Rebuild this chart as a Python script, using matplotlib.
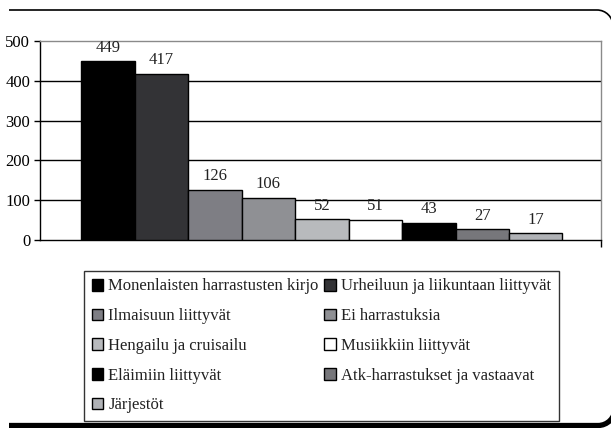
import numpy as np
import matplotlib
matplotlib.use("Agg")
from matplotlib import pyplot as plt
from matplotlib.patches import Rectangle
from matplotlib.path import Path
from matplotlib.patches import PathPatch
from matplotlib.transforms import IdentityTransform

#%% Données

categories = ["Monenlaisten harrastusten kirjo", "Urheiluun ja liikuntaan liittyvät",
              "Ilmaisuun liittyvät", "Ei harrastuksia", "Hengailu ja cruisailu",
              "Musiikkiin liittyvät", "Eläimiin liittyvät", "Atk-harrastukset ja vastaavat",
              "Järjestöt"]
valeurs = [449, 417, 126, 106, 52, 51, 43, 27, 17]
couleurs = ["#000000", "#333336", "#7e7e84", "#8f9094", "#b8babd",
            "#ffffff", "#000000", "#77777b", "#b0b2b6"]
yticks = [0, 100, 200, 300, 400, 500]

plt.rcParams['font.family'] = ['Liberation Serif', 'DejaVu Serif']

#%% Figure

fig = plt.figure(figsize=(6.11, 4.28), dpi=100)
ax = fig.add_axes([40/611, 1-240/428, 561/611, 199/428])

x = np.arange(len(valeurs))
barres = ax.bar(x, valeurs, width=1.0, color=couleurs, edgecolor="black", linewidth=1, zorder=3)
for xi, v in zip(x, valeurs):
    ax.annotate(str(v), (xi, v), xytext=(0, 4), textcoords="offset points",
                ha="center", va="bottom", fontsize=12, color="#222222")

ax.set_ylim(0, 500)
ax.set_xlim(-1.27, 9.22)
ax.set_yticks(yticks)
ax.tick_params(axis="y", direction="out", length=4, width=1, labelsize=12, pad=3)
ax.set_xticks([9.22])
ax.set_xticklabels([])
ax.tick_params(axis="x", direction="out", length=5, width=1)
for yv in yticks[1:-1]:
    ax.axhline(yv, color="black", linewidth=1, zorder=1)
ax.spines["left"].set_color("black")
ax.spines["bottom"].set_color("black")
ax.spines["top"].set_color("#8a8a8a")
ax.spines["right"].set_color("#8a8a8a")
for s in ax.spines.values():
    s.set_linewidth(1)

#%% Légende (ordre par lignes)

poignees = [Rectangle((0, 0), 1, 1, facecolor=c, edgecolor="black", linewidth=1) for c in couleurs]
ordre = [0, 2, 4, 6, 8, 1, 3, 5, 7]
leg = fig.legend([poignees[i] for i in ordre], [categories[i] for i in ordre],
                 loc="upper left", bbox_to_anchor=(84/611, 1-271/428), ncol=2,
                 fontsize=12, frameon=True, fancybox=False, edgecolor="black",
                 handlelength=0.7, handleheight=0.7, handletextpad=0.3,
                 columnspacing=0.35, labelspacing=0.82, borderpad=0.45, borderaxespad=0)
leg.get_frame().set_linewidth(1)
for t in leg.get_texts():
    t.set_color("#222222")

#%% Cadre arrondi (en pixels)

H = 428
def ligne(points, codes, lw):
    p = PathPatch(Path(points, codes), facecolor="none", edgecolor="black",
                  linewidth=lw, transform=IdentityTransform(), capstyle="butt")
    fig.add_artist(p)

k = 0.5523
r = 16
# haut
ligne([(9, H-10), (597, H-10), (597+k*r, H-10), (613, H-10-r+k*r), (613, H-10-r), (613, 300)],
      [Path.MOVETO, Path.LINETO, Path.CURVE4, Path.CURVE4, Path.CURVE4, Path.LINETO], 1.2)
# bas (ombre épaisse)
r2 = 17
ligne([(9, 2.5), (598, 2.5), (598+k*r2, 2.5), (615, 2.5+r2-k*r2), (615, 2.5+r2), (615, 300)],
      [Path.MOVETO, Path.LINETO, Path.CURVE4, Path.CURVE4, Path.CURVE4, Path.LINETO], 3.8)

plt.savefig("out.png", dpi=100)
